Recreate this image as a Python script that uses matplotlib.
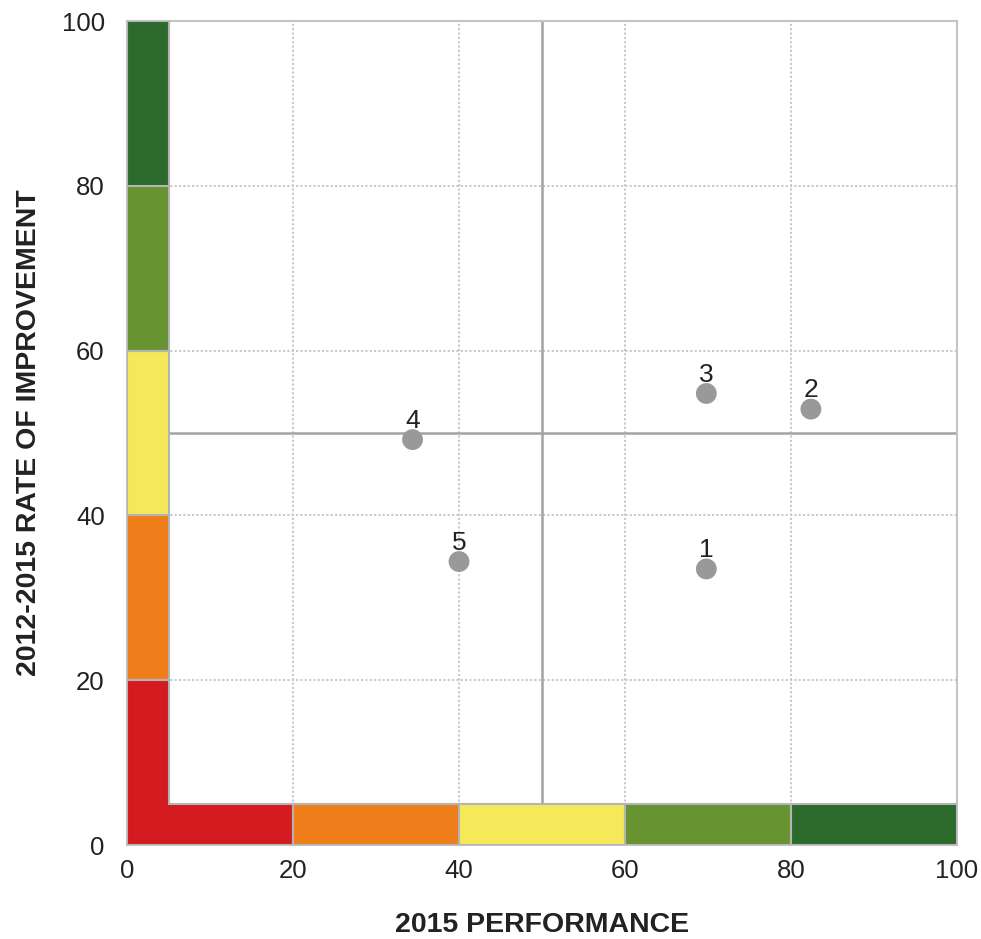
import matplotlib
matplotlib.use("Agg")
import matplotlib.pyplot as plt
from matplotlib.patches import Rectangle, Polygon

plt.rcParams['font.family'] = ['Liberation Sans', 'DejaVu Sans']

# Scored items: 2015 performance vs. 2012-2015 rate of improvement
point_labels = ["1", "2", "3", "4", "5"]
performance = [69.8, 82.4, 69.8, 34.4, 40.0]
improvement = [33.5, 52.9, 54.8, 49.2, 34.4]

# Colour scale bands along both axes
band_edges = [0, 20, 40, 60, 80, 100]
band_colors = ["#d31a1f", "#ef7d1a", "#f5e95a", "#679431", "#2d6b2d"]
band_width = 5
midpoint = 50

ticks = [0, 20, 40, 60, 80, 100]
xlabel = "2015 PERFORMANCE"
ylabel = "2012-2015 RATE OF IMPROVEMENT"

fig = plt.figure(figsize=(9.81, 9.39), dpi=100)
ax = fig.add_axes([0.1295, 0.1001, 0.846, 0.8775])
ax.set_xlim(0, 100)
ax.set_ylim(0, 100)

edge = "#b4b4b4"
text_color = "#222222"

# dotted grid
for t in ticks[1:-1]:
    ax.axvline(t, color="#c4c4c4", lw=1.3, ls=(0, (1.2, 1.2)), zorder=1)
    ax.axhline(t, color="#c4c4c4", lw=1.3, ls=(0, (1.2, 1.2)), zorder=1)

# bands: first band forms an L in the corner
for i, c in enumerate(band_colors):
    lo, hi = band_edges[i], band_edges[i + 1]
    if i == 0:
        poly = Polygon([(0, 0), (hi, 0), (hi, band_width), (band_width, band_width),
                        (band_width, hi), (0, hi)], closed=True,
                       facecolor=c, edgecolor=edge, lw=1.5, zorder=3)
        ax.add_patch(poly)
    else:
        ax.add_patch(Rectangle((lo, 0), hi - lo, band_width, facecolor=c,
                               edgecolor=edge, lw=1.5, zorder=3))
        ax.add_patch(Rectangle((0, lo), band_width, hi - lo, facecolor=c,
                               edgecolor=edge, lw=1.5, zorder=3))

# quadrant dividers
ax.plot([midpoint, midpoint], [band_width, 100], color="#a3a3a3", lw=1.8, zorder=2,
        solid_capstyle="butt")
ax.plot([band_width, 100], [midpoint, midpoint], color="#a3a3a3", lw=1.8, zorder=2,
        solid_capstyle="butt")

ax.scatter(performance, improvement, s=225, color="#999999", edgecolors="none", zorder=5)
for lab, x, y in zip(point_labels, performance, improvement):
    ax.annotate(lab, (x, y), xytext=(0, 8.5), textcoords="offset points",
                ha="center", va="baseline", fontsize=19, color=text_color, zorder=6)

ax.set_xticks(ticks)
ax.set_yticks(ticks)
ax.tick_params(axis="both", length=0, labelsize=18.5, colors=text_color)
ax.tick_params(axis="x", pad=10)
ax.tick_params(axis="y", pad=16)
for s in ax.spines.values():
    s.set_color("#c4c4c4")
    s.set_linewidth(1.5)

ax.set_xlabel(xlabel, fontsize=20.5, fontweight="bold", color=text_color)
ax.set_ylabel(ylabel, fontsize=20.5, fontweight="bold", color=text_color)
ax.xaxis.set_label_coords(0.5, -0.1055)
ax.xaxis.label.set_va("baseline")
ax.yaxis.set_label_coords(-0.1096, 0.5)
ax.yaxis.label.set_va("baseline")

fig.savefig("out.png", dpi=100)
